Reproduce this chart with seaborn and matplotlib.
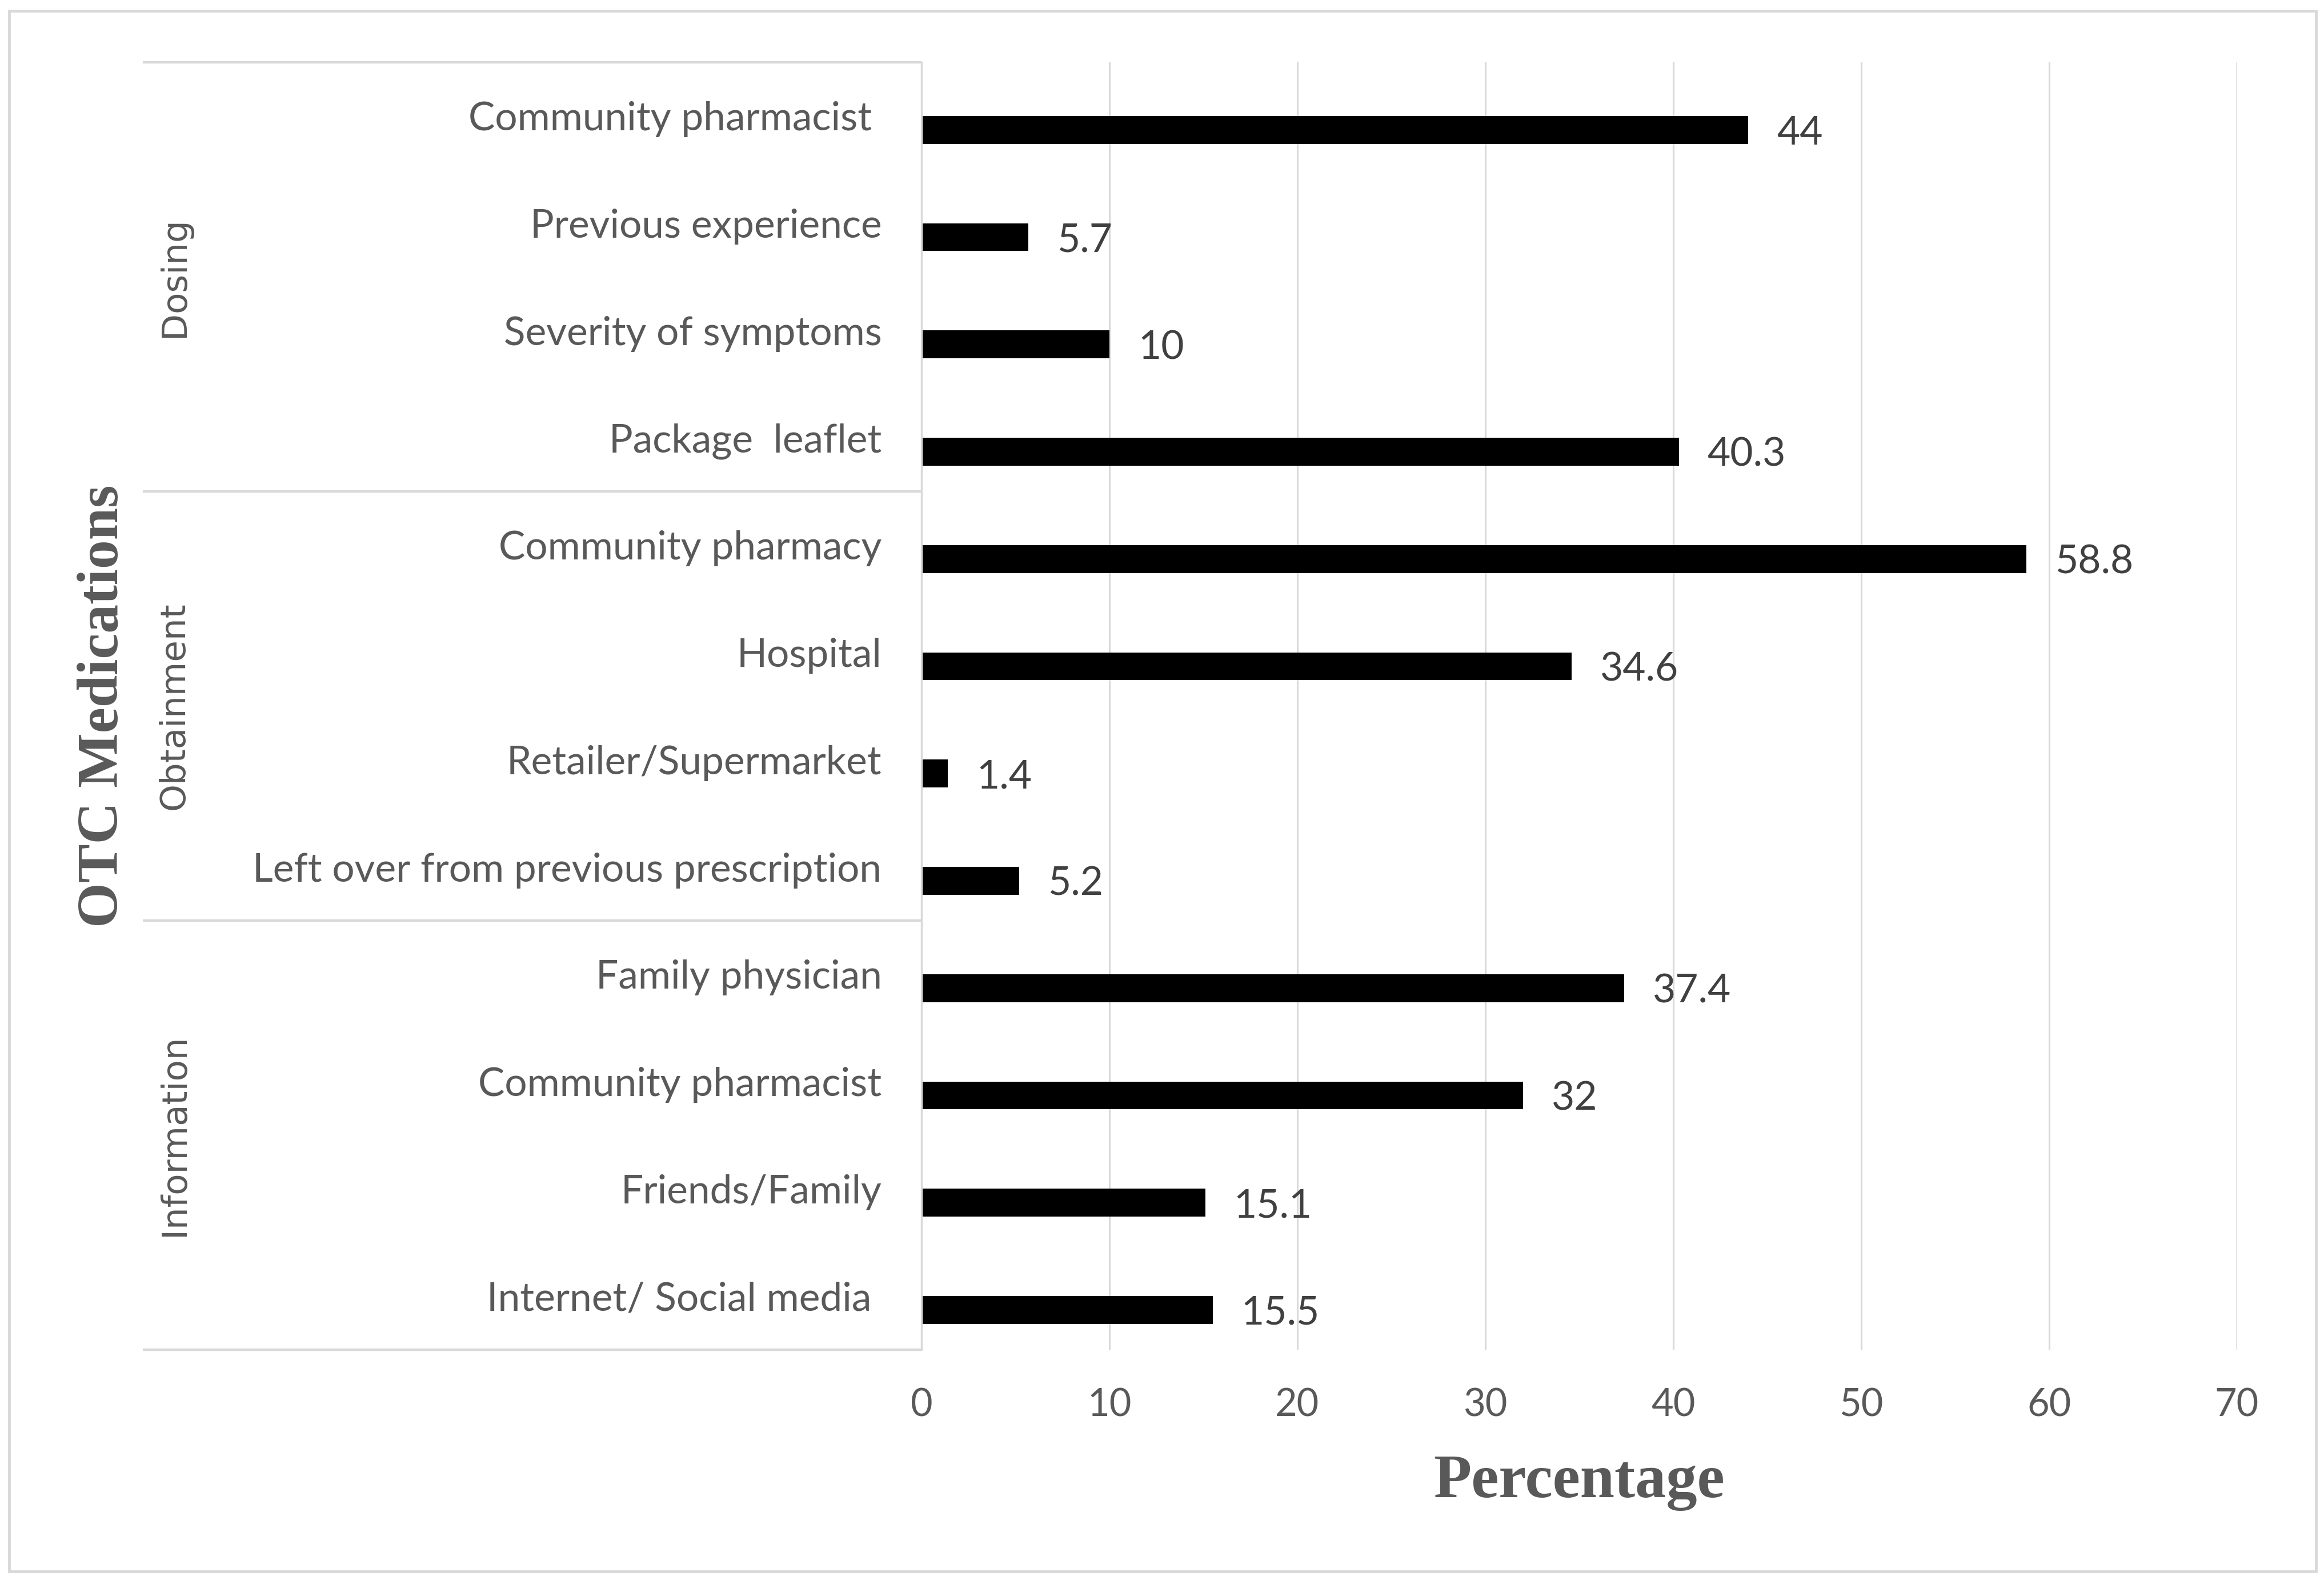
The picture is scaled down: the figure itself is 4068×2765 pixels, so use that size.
import matplotlib
matplotlib.use("Agg")
import matplotlib.pyplot as plt
import matplotlib.transforms as mtransforms
from matplotlib.patches import Rectangle
import seaborn as sns
import pandas as pd

# ---------------- data ----------------
groups = ["Dosing", "Obtainment", "Information"]
group_sizes = [4, 4, 4]
categories = [
    "Community pharmacist ", "Previous experience", "Severity of symptoms", "Package  leaflet",
    "Community pharmacy", "Hospital", "Retailer/Supermarket", "Left over from previous prescription",
    "Family physician", "Community pharmacist", "Friends/Family", "Internet/ Social media ",
]
values = [44, 5.7, 10, 40.3, 58.8, 34.6, 1.4, 5.2, 37.4, 32, 15.1, 15.5]
x_ticks = [0, 10, 20, 30, 40, 50, 60, 70]
x_label = "Percentage"
y_label = "OTC Medications"

# ---------------- build table ----------------
group_of = []
for g, n in zip(groups, group_sizes):
    group_of += [g] * n
keys = [f"{g}:{c}" for g, c in zip(group_of, categories)]
rows = []
for k, v in zip(keys, values):
    rows.append({"key": k, "series": "blank", "pct": 0.0})
    rows.append({"key": k, "series": "value", "pct": v})
df = pd.DataFrame(rows)

# ---------------- style ----------------
sns.set_style("white")
plt.rcParams["font.family"] = ["Lato", "DejaVu Sans"]
GRID = "#D9D9D9"
TXT = "#595959"
VAL = "#404040"

fig = plt.figure(figsize=(40.68, 27.65), dpi=100)
ax = fig.add_axes([0.3965, 0.1458, 0.566, 0.8148])

sns.barplot(data=df, y="key", x="pct", hue="series", hue_order=["blank", "value"],
            order=keys, palette={"blank": "white", "value": "black"}, orient="h",
            width=0.52, dodge=True, errorbar=None, legend=False, linewidth=0, ax=ax)

ax.set_xlim(0, 70)
ax.set_ylim(len(keys) - 0.5, -0.5)
ax.set_xticks(x_ticks)
ax.set_xticklabels([str(t) for t in x_ticks])
ax.set_yticks(range(len(keys)))
ax.set_yticklabels(categories)
ax.tick_params(axis="y", length=0, pad=50, labelsize=50, labelcolor=TXT)
ax.tick_params(axis="x", length=0, pad=48, labelsize=48, labelcolor=TXT)

ax.xaxis.grid(True, color=GRID, linewidth=2.2)
ax.yaxis.grid(False)
ax.set_axisbelow(True)
for s in ["top", "right", "bottom"]:
    ax.spines[s].set_visible(False)
ax.spines["left"].set_color(GRID)
ax.spines["left"].set_linewidth(2.5)

# value labels
cont = ax.containers[1]
texts = ax.bar_label(cont, labels=[f"{v:g}" for v in values], padding=36,
                     fontsize=50, color=VAL)
for t in texts:
    t.set_va("center_baseline")

# axis titles
ax.set_xlabel(x_label, fontsize=78, fontweight="bold", color=TXT,
              family=["Liberation Serif", "DejaVu Serif"], labelpad=40)
ax.set_ylabel("")

trans = mtransforms.blended_transform_factory(ax.transAxes, ax.transData)
# group brackets
bounds = [-0.5]
for n in group_sizes:
    bounds.append(bounds[-1] + n)
for b in bounds:
    ax.plot([-0.592, 0], [b, b], transform=trans, color=GRID, linewidth=3.2,
            clip_on=False, solid_capstyle="butt")
# group labels
for g, lo, hi in zip(groups, bounds[:-1], bounds[1:]):
    ax.text(-0.568, (lo + hi) / 2, g, transform=trans, rotation=90, ha="center",
            va="center", fontsize=44, color=TXT, family=["DejaVu Sans"])

# y title
ax.text(-0.622, (bounds[0] + bounds[-1]) / 2, y_label, transform=trans, rotation=90,
        ha="center", va="center", fontsize=73, fontweight="bold", color=TXT,
        family=["Liberation Serif", "DejaVu Serif"])

# outer border
fig.patches.append(Rectangle((0.004, 0.0054), 0.9925, 0.9877, transform=fig.transFigure,
                             fill=False, edgecolor=GRID, linewidth=3.5))

fig.savefig("out.png", dpi=100)
